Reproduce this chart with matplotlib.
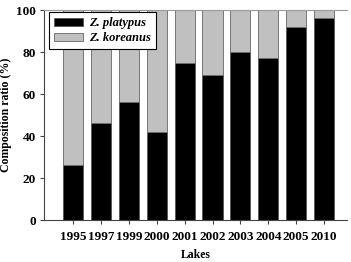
import matplotlib.pyplot as plt
import numpy as np

years = ["1995", "1997", "1999", "2000", "2001", "2002", "2003", "2004", "2005", "2010"]
platypus = [26, 46, 56, 42, 75, 69, 80, 77, 92, 96]
koreanus = [100 - v for v in platypus]

plt.rcParams["font.family"] = ["Liberation Serif", "DejaVu Serif"]
plt.rcParams["font.weight"] = "bold"

fig = plt.figure(figsize=(3.51, 2.62), dpi=100)
ax = fig.add_axes([0.1254, 0.1603, 0.8632, 0.8015])

x = np.arange(len(years))
ax.bar(x, platypus, width=0.72, color="black", edgecolor="#555555", linewidth=0.6,
       label="Z. platypus")
ax.bar(x, koreanus, bottom=platypus, width=0.72, color="#c0c0c0", edgecolor="#666666",
       linewidth=0.6, label="Z. koreanus")

ax.set_xlim(-1.04, 9.82)
ax.set_ylim(0, 100)
ax.set_xticks(x)
ax.set_xticklabels(years, fontsize=9.5, fontweight="bold")
ax.set_yticks([0, 20, 40, 60, 80, 100])
ax.set_yticklabels(["0", "20", "40", "60", "80", "100"], fontsize=9.5, fontweight="bold")
ax.tick_params(direction="out", length=3, width=0.8, color="#444444", pad=3)
ax.tick_params(axis="x", pad=5)

ax.spines["right"].set_visible(False)
ax.spines["top"].set_color("#999999")
ax.spines["top"].set_linewidth(0.8)
for s in ["left", "bottom"]:
    ax.spines[s].set_color("#444444")
    ax.spines[s].set_linewidth(0.8)

ax.set_xlabel("Lakes", fontsize=8.5, fontweight="bold", labelpad=4)
ax.set_ylabel("Composition ratio (%)", fontsize=8.5, fontweight="bold", labelpad=3)

leg = ax.legend(loc="upper left", bbox_to_anchor=(0.018, 0.99),
                prop={"size": 9, "style": "italic", "weight": "bold"},
                fancybox=False, edgecolor="black", framealpha=1, handlelength=2.3,
                handleheight=0.6, borderpad=0.4, labelspacing=0.25, handletextpad=0.5,
                borderaxespad=0)
leg.get_frame().set_linewidth(0.8)

fig.savefig("out.png", dpi=100)
